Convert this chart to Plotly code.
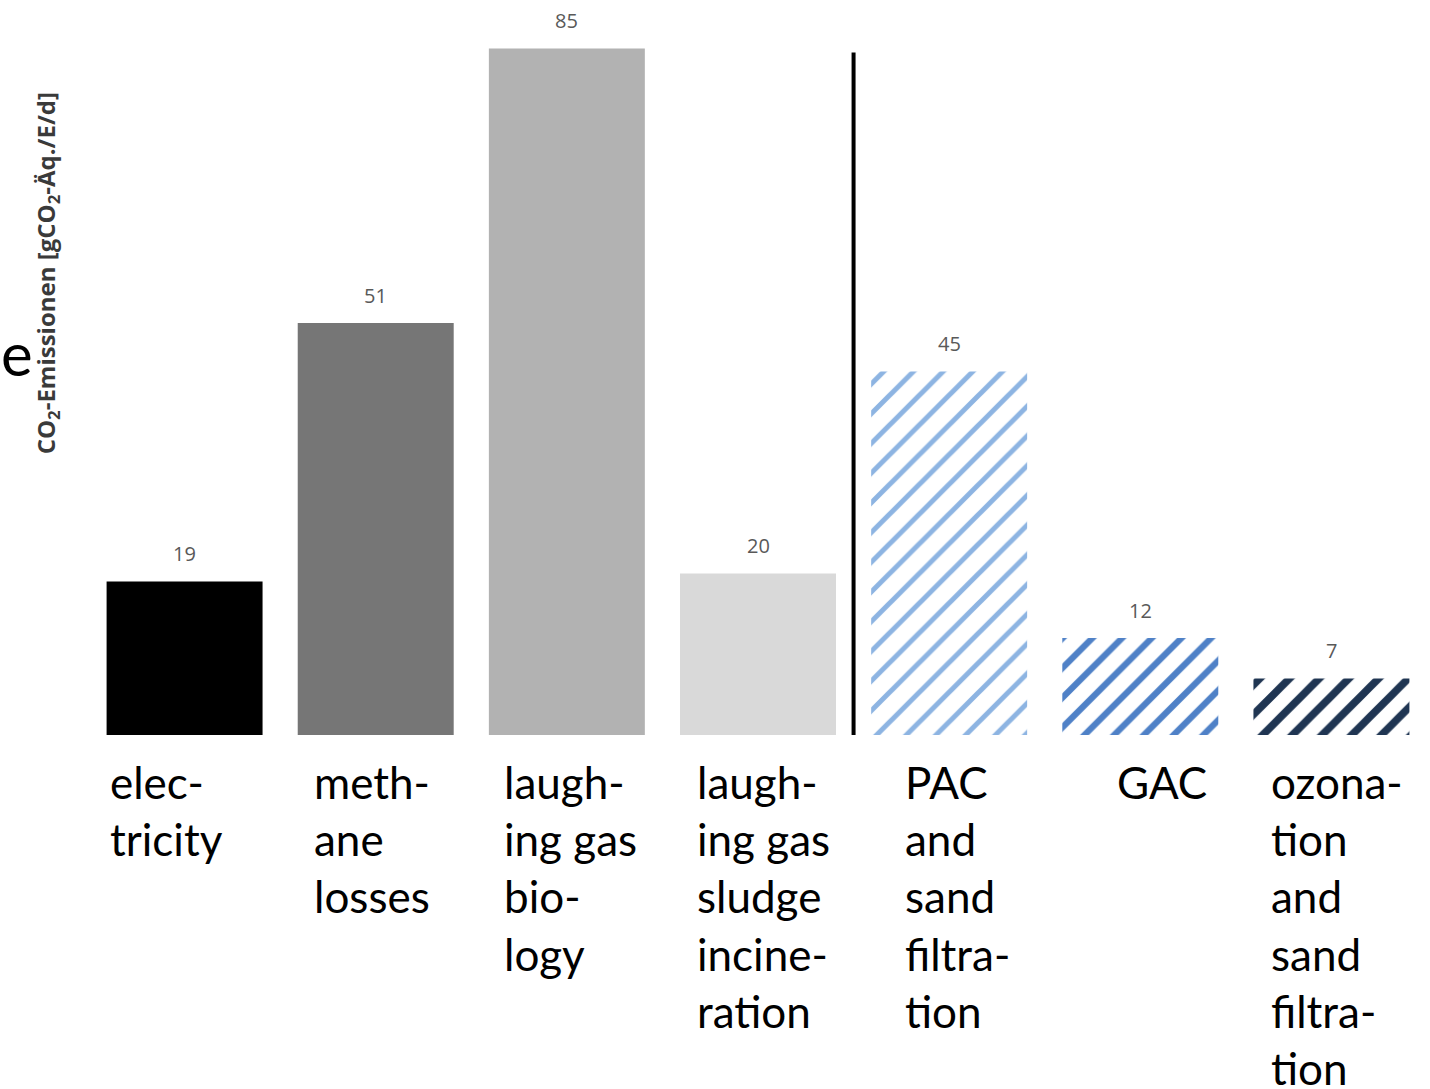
import plotly.graph_objects as go

# Emission sources and treatment stages (one bar each)
categories = [
    "electricity",
    "methane losses",
    "laughing gas biology",
    "laughing gas sludge incineration",
    "PAC and sand filtration",
    "GAC",
    "ozonation and sand filtration",
]
# Wrapped axis labels, one list of lines per category
label_lines = [
    ["elec-", "tricity"],
    ["meth-", "ane", "losses"],
    ["laugh-", "ing gas", "bio-", "logy"],
    ["laugh-", "ing gas", "sludge", "incine-", "ration"],
    ["PAC", "and", "sand", "filtra-", "tion"],
    ["GAC"],
    ["ozona-", "tion", "and", "sand", "filtra-", "tion"],
]
# CO2 emissions in g CO2-eq. per inhabitant and day
values = [19, 51, 85, 20, 45, 12, 7]

bar_colors = ["#000000", "#767676", "#b2b2b2", "#d9d9d9",
              "#8db4e2", "#4f81c7", "#1f3552"]
pattern_shapes = ["", "", "", "", "/", "/", "/"]
pattern_solidity = [0.3, 0.3, 0.3, 0.3, 0.24, 0.3, 0.36]
# horizontal nudge of each wrapped label block (px)
label_xshift = [-18, -4, 4, 5, 8, 22, 6]

# number of emission-source bars before the divider line
n_sources = 4

fig = go.Figure()
fig.add_trace(go.Bar(
    x=categories,
    y=values,
    marker=dict(
        color=bar_colors,
        line=dict(width=0),
        pattern=dict(
            shape=pattern_shapes,
            fillmode="replace",
            bgcolor="white",
            size=21,
            solidity=pattern_solidity,
        ),
    ),
    showlegend=False,
    hoverinfo="x+y",
))

annotations = []
# value labels above each bar
for cat, val in zip(categories, values):
    annotations.append(dict(
        x=cat, y=val, xref="x", yref="y",
        text=str(val), showarrow=False,
        yanchor="middle", yshift=28,
        font=dict(family="Open Sans", size=20, color="#595959"),
    ))
# category labels below the bars
for cat, lines, dx in zip(categories, label_lines, label_xshift):
    annotations.append(dict(
        x=cat, y=0, xref="x", yref="y",
        text="<br>".join(lines), showarrow=False,
        xanchor="center", yanchor="top", align="left",
        xshift=dx, yshift=-19,
        font=dict(family="Lato", size=44, color="#000000"),
    ))
# vertical axis title
annotations.append(dict(
    x=-0.0314, y=0.635, xref="paper", yref="paper",
    xanchor="center", yanchor="middle",
    text="CO<sub>2</sub>-Emissionen [gCO<sub>2</sub>-Äq./E/d]",
    showarrow=False, textangle=-90,
    font=dict(family="Open Sans", size=24, color="#3a3a3a", weight="bold"),
))
# trailing letter of the slide heading at the left edge
annotations.append(dict(
    x=-0.054, y=0.525, xref="paper", yref="paper",
    xanchor="center", yanchor="middle",
    text="e", showarrow=False,
    font=dict(family="Lato", size=60, color="#000000"),
))

fig.update_layout(
    width=1430, height=1089,
    margin=dict(l=89, r=3, t=8, b=354),
    paper_bgcolor="white",
    plot_bgcolor="white",
    bargap=0.184,
    annotations=annotations,
    shapes=[dict(
        type="line", xref="x", yref="y",
        x0=n_sources - 0.5, x1=n_sources - 0.5, y0=-0.6, y1=84.5,
        line=dict(color="#000000", width=4),
    )],
    xaxis=dict(range=[-0.5, len(categories) - 0.5], showticklabels=False,
               showgrid=False, zeroline=False, showline=False, ticks=""),
    yaxis=dict(range=[0, 90], showticklabels=False, showgrid=False,
               zeroline=False, showline=False, ticks=""),
)

fig.write_html("out.html")
